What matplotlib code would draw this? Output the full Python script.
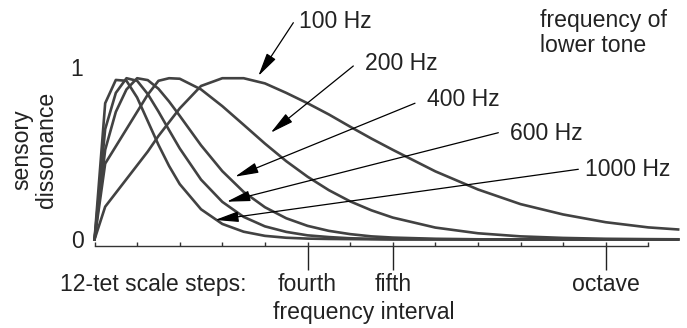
import numpy as np
import matplotlib
matplotlib.use("Agg")
import matplotlib.pyplot as plt

plt.rcParams['font.family'] = ['Liberation Sans', 'DejaVu Sans']

# interval in 12-tet steps (semitones above the lower tone)
steps = [0, 0.25, 0.5, 0.75, 1, 1.25, 1.5, 1.75, 2, 2.5, 3, 3.5, 4, 4.5, 5,
         5.5, 6, 6.5, 7, 8, 9, 10, 11, 12, 13, 13.7]

# sensory dissonance, one list per lower-tone frequency
d100 = [0, 0.19, 0.27, 0.35, 0.43, 0.51, 0.60, 0.68, 0.76, 0.89, 0.935, 0.935,
        0.905, 0.85, 0.79, 0.725, 0.654, 0.585, 0.52, 0.395, 0.29, 0.205,
        0.145, 0.10, 0.07, 0.058]
d200 = [0, 0.44, 0.54, 0.64, 0.74, 0.84, 0.92, 0.935, 0.932, 0.87, 0.773,
        0.665, 0.556, 0.454, 0.364, 0.286, 0.221, 0.169, 0.127, 0.069, 0.036,
        0.018, 0.009, 0.004, 0.002, 0.001]
d400 = [0, 0.52, 0.74, 0.87, 0.935, 0.924, 0.874, 0.80, 0.717, 0.546, 0.396,
        0.276, 0.187, 0.123, 0.079, 0.05, 0.031, 0.018, 0.011, 0.004, 0.001,
        0, 0, 0, 0, 0]
d600 = [0, 0.64, 0.85, 0.935, 0.92, 0.843, 0.742, 0.634, 0.528, 0.347, 0.218,
        0.131, 0.076, 0.044, 0.024, 0.014, 0.007, 0.004, 0.002, 0.001, 0,
        0, 0, 0, 0, 0]
d1000 = [0, 0.79, 0.925, 0.92, 0.823, 0.686, 0.549, 0.426, 0.321, 0.175,
         0.09, 0.045, 0.021, 0.01, 0.005, 0.003, 0.002, 0.001, 0, 0, 0,
         0, 0, 0, 0, 0]
curves = [d100, d200, d400, d600, d1000]
labels = ['100 Hz', '200 Hz', '400 Hz', '600 Hz', '1000 Hz']

scale_steps = list(range(14))
named_steps = [5, 7, 12]
named_labels = ['fourth', 'fifth', 'octave']

fs = 16.6
ink = '#222222'

fig = plt.figure(figsize=(6.87, 3.28), dpi=100)
ax = fig.add_axes([0.1376, 0.2515, 0.8495, 0.5442])

for d in curves:
    ax.plot(steps, d, color='#424242', lw=1.9, clip_on=False,
            solid_joinstyle='round')

ax.set_xlim(0, 13.7)
ax.set_ylim(-0.035, 1.0)

# arrows from each label to its curve (tip, tail, text position)
arrows = [((3.845, 0.948), (4.667, 1.257), (4.80, 1.263)),
          ((4.136, 0.619), (6.075, 1.006), (6.35, 1.021)),
          ((3.298, 0.364), (7.523, 0.790), (7.80, 0.809)),
          ((3.103, 0.219), (9.479, 0.619), (9.75, 0.616)),
          ((2.829, 0.113), (11.357, 0.407), (11.51, 0.403))]
for lab, (tip, tail, txt) in zip(labels, arrows):
    ax.annotate('', xy=tip, xytext=tail, annotation_clip=False,
                arrowprops=dict(arrowstyle='-|>,head_length=1.2,head_width=0.27',
                                mutation_scale=12, lw=0.9, color='black',
                                shrinkA=0, shrinkB=0))
    ax.text(txt[0], txt[1], lab, fontsize=fs, color=ink, ha='left',
            va='center', clip_on=False)

for s in ['top', 'right', 'left']:
    ax.spines[s].set_visible(False)
ax.spines['bottom'].set_bounds(0, 13)
ax.spines['bottom'].set_color('#333333')
ax.spines['bottom'].set_linewidth(1.0)

ax.set_yticks([0, 1])
ax.set_yticklabels(['0', '1'])
ax.tick_params(axis='y', length=0, pad=8, labelsize=fs, labelcolor=ink)

ax.xaxis.remove_overlapping_locs = False
ax.set_xticks(named_steps)
ax.set_xticklabels(named_labels)
ax.set_xticks(scale_steps, minor=True)
ax.tick_params(axis='x', which='major', direction='out', length=17,
               width=1.0, color='#222222', pad=3, labelsize=fs,
               labelcolor=ink)
ax.tick_params(axis='x', which='minor', direction='in', length=3,
               width=1.0, color='#333333')

fig.text(60 / 687, 1 - 285 / 328, '12-tet scale steps:', fontsize=fs,
         color=ink, ha='left', va='center')
fig.text(363.5 / 687, 1 - 313 / 328, 'frequency interval', fontsize=fs,
         color=ink, ha='center', va='center')
fig.text(34 / 687, 1 - 150 / 328, 'sensory\ndissonance', fontsize=fs,
         color=ink, ha='center', va='center', rotation=90, linespacing=1.1)
fig.text(540 / 687, 1 - 33 / 328, 'frequency of\nlower tone', fontsize=fs,
         color=ink, ha='left', va='center', linespacing=1.1)

fig.savefig('out.png', dpi=100)
